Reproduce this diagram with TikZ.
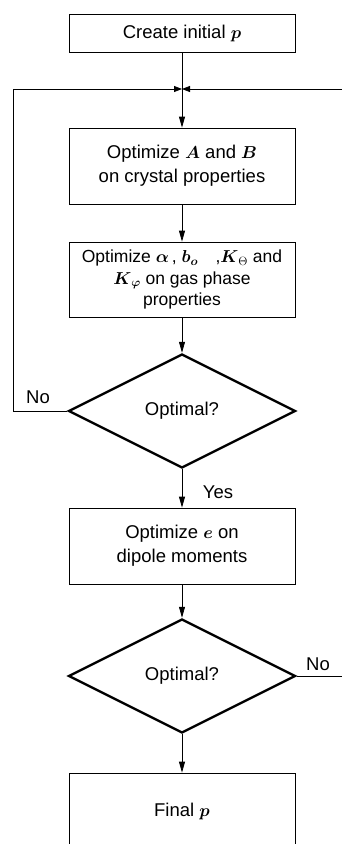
\documentclass[tikz,border=0pt]{standalone}
\usepackage{fontspec}
\usepackage{amsmath,amsbsy}
\setmainfont{Liberation Sans}
\usetikzlibrary{shapes.geometric,arrows.meta}

\tikzset{
  stepbox/.style={draw, line width=0.8pt, minimum width=226pt, align=center, inner sep=2pt},
  decision/.style={diamond, draw, line width=2.4pt, minimum width=227pt, minimum height=114pt, inner sep=0pt},
  flow/.style={line width=0.8pt, -{Triangle[length=11pt,width=6pt]}},
  meet/.style={line width=0.8pt, -{Triangle[length=8pt,width=6pt]}},
  lbl/.style={inner sep=0pt},
}

\begin{document}
\begin{tikzpicture}[x=1pt,y=-1pt,font=\fontsize{18.5}{24}\selectfont]
  \useasboundingbox (0,0) rectangle (342,844);
  \clip (0,0) rectangle (342,844);
  % boxes and decisions
  \node[stepbox, minimum height=38pt] (init) at (182,33) {Create initial $\boldsymbol{p}$};
  \node[stepbox, minimum height=76pt] (crystal) at (182,166)
    {Optimize $\boldsymbol{A}$ and $\boldsymbol{B}$\\on crystal properties};
  \node[stepbox, minimum height=75pt, font=\fontsize{17.5}{21.5}\selectfont] (gasphase) at (182,279.5)
    {Optimize $\boldsymbol{\alpha}$\,, $\boldsymbol{b_o}$\quad,$\boldsymbol{K}_\Theta$ and\\
     $\boldsymbol{K}_{\boldsymbol{\varphi}}$ on gas phase\\properties};
  \node[decision] (opt1) at (182,411) {Optimal?};
  \node[stepbox, minimum height=76pt] (dipole) at (182,546)
    {Optimize $\boldsymbol{e}$ on\\dipole moments};
  \node[decision] (opt2) at (182,676) {Optimal?};
  \node[stepbox, minimum height=76pt] (final) at (182,811) {Final $\boldsymbol{p}$};
  % loop points
  \coordinate (join) at (182,89);
  \coordinate (loopleft) at (13,89);
  \coordinate (loopright) at (342,89);
  % connectors
  \draw[flow] (init) -- (crystal);
  \draw[flow] (crystal) -- (gasphase);
  \draw[flow] (gasphase) -- (opt1);
  \draw[flow] (opt1) -- (dipole);
  \draw[flow] (dipole) -- (opt2);
  \draw[flow] (opt2) -- (final);
  \draw[meet] (opt1.west) -- (opt1.west -| loopleft) -- (loopleft) -- (join);
  \draw[meet] (loopright) -- (join);
  \draw[line width=0.8pt] (opt2.east) -- (opt2.east -| loopright);
  % labels
  \node[lbl] (no1) at (38,397) {No};
  \node[lbl] (yes) at (218,492) {Yes};
  \node[lbl] (no2) at (318,664) {No};
\end{tikzpicture}
\end{document}
